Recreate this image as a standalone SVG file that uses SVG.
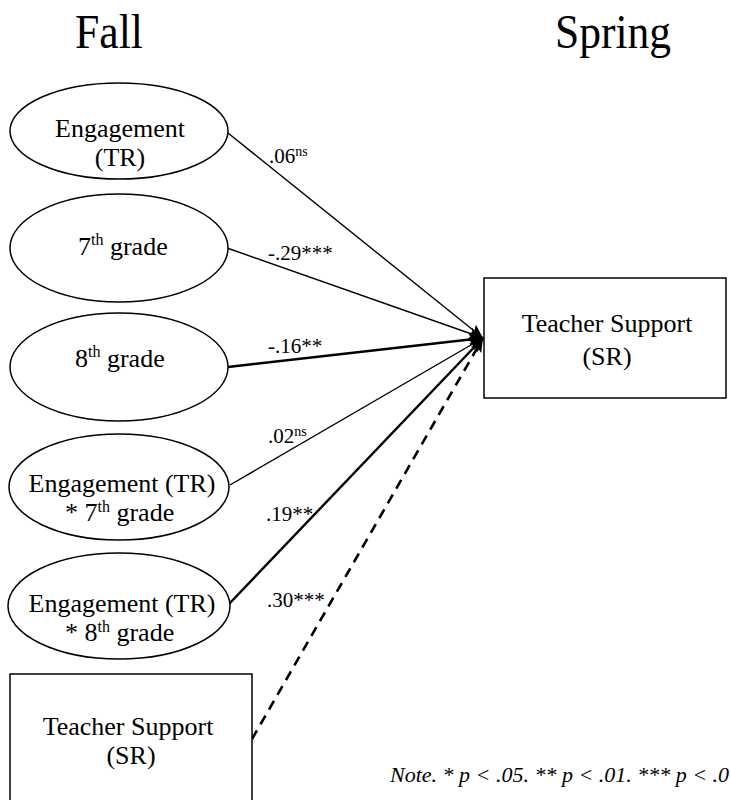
<svg xmlns="http://www.w3.org/2000/svg" width="730" height="800" viewBox="0 0 730 800">
<style>
text{font-family:"Liberation Serif",Tinos,"Times New Roman","DejaVu Serif",serif;fill:#000}
.t{font-size:26px}
.lab{font-size:21px}
.sup{font-size:14px}
.hd{font-size:48px}
.node{fill:#fff;stroke:#000;stroke-width:1.5}
.c{stroke:#000;fill:none}
.thin{stroke-width:1.4}
.thick{stroke-width:2.4}
.dash{stroke-width:2.6;stroke-dasharray:10 7}
.note{font-size:22px;font-style:italic}
</style>
<defs>
<marker id="ah" markerUnits="userSpaceOnUse" markerWidth="16" markerHeight="12" refX="14" refY="6" orient="auto">
<path d="M0,0 L14,6 L0,12 L3,6 Z" fill="#000" stroke="none"/>
</marker>
</defs>
<rect width="730" height="800" fill="#fff"/>
<g id="headers">
<text class="hd" x="75" y="48" textLength="68" lengthAdjust="spacingAndGlyphs">Fall</text>
<text class="hd" x="555" y="48" textLength="116" lengthAdjust="spacingAndGlyphs">Spring</text>
</g>
<g id="connectors">
<line class="c thin" x1="228" y1="133" x2="483" y2="338" marker-end="url(#ah)"/>
<line class="c thin" x1="227" y1="248" x2="483" y2="338" marker-end="url(#ah)"/>
<line class="c thick" x1="228" y1="367" x2="483" y2="338" marker-end="url(#ah)"/>
<line class="c thin" x1="230" y1="485" x2="483" y2="338" marker-end="url(#ah)"/>
<line class="c thick" x1="229" y1="604" x2="483" y2="338" marker-end="url(#ah)"/>
<line class="c dash" x1="252" y1="739" x2="483" y2="338" marker-end="url(#ah)"/>
</g>
<g id="labels">
<text class="lab" x="269" y="163">.06<tspan class="sup" dy="-7">ns</tspan></text>
<text class="lab" x="268" y="260">-.29***</text>
<text class="lab" x="268" y="353">-.16**</text>
<text class="lab" x="268" y="443">.02<tspan class="sup" dy="-7">ns</tspan></text>
<text class="lab" x="266" y="521">.19**</text>
<text class="lab" x="267" y="607">.30***</text>
</g>
<g id="n1">
<ellipse class="node" cx="119" cy="131" rx="109" ry="48"/>
<text class="t" x="120" y="137" text-anchor="middle">Engagement</text>
<text class="t" x="120" y="166" text-anchor="middle">(TR)</text>
</g>
<g id="n2">
<ellipse class="node" cx="119" cy="248" rx="109" ry="54"/>
<text class="t" x="78" y="255">7<tspan font-size="16" dy="-10">th</tspan><tspan dy="10"> grade</tspan></text>
</g>
<g id="n3">
<ellipse class="node" cx="119" cy="367" rx="109" ry="54"/>
<text class="t" x="75" y="367">8<tspan font-size="16" dy="-10">th</tspan><tspan dy="10"> grade</tspan></text>
</g>
<g id="n4">
<ellipse class="node" cx="119" cy="487" rx="110" ry="53"/>
<text class="t" x="122" y="492" text-anchor="middle">Engagement (TR)</text>
<text class="t" x="65" y="521">* 7<tspan font-size="16" dy="-9">th</tspan><tspan dy="9"> grade</tspan></text>
</g>
<g id="n5">
<ellipse class="node" cx="119" cy="606" rx="111" ry="53"/>
<text class="t" x="122" y="612" text-anchor="middle">Engagement (TR)</text>
<text class="t" x="65" y="641">* 8<tspan font-size="16" dy="-9">th</tspan><tspan dy="9"> grade</tspan></text>
</g>
<g id="n6">
<rect class="node" x="10" y="674" width="242" height="140"/>
<text class="t" x="128" y="735" text-anchor="middle">Teacher Support</text>
<text class="t" x="131" y="764" text-anchor="middle">(SR)</text>
</g>
<g id="target">
<rect class="node" x="484" y="278" width="242" height="120"/>
<text class="t" x="607" y="332" text-anchor="middle">Teacher Support</text>
<text class="t" x="607" y="365" text-anchor="middle">(SR)</text>
</g>
<g id="note">
<text class="note" x="390" y="782">Note. * p &lt; .05. ** p &lt; .01. *** p &lt; .0</text>
</g>
</svg>
